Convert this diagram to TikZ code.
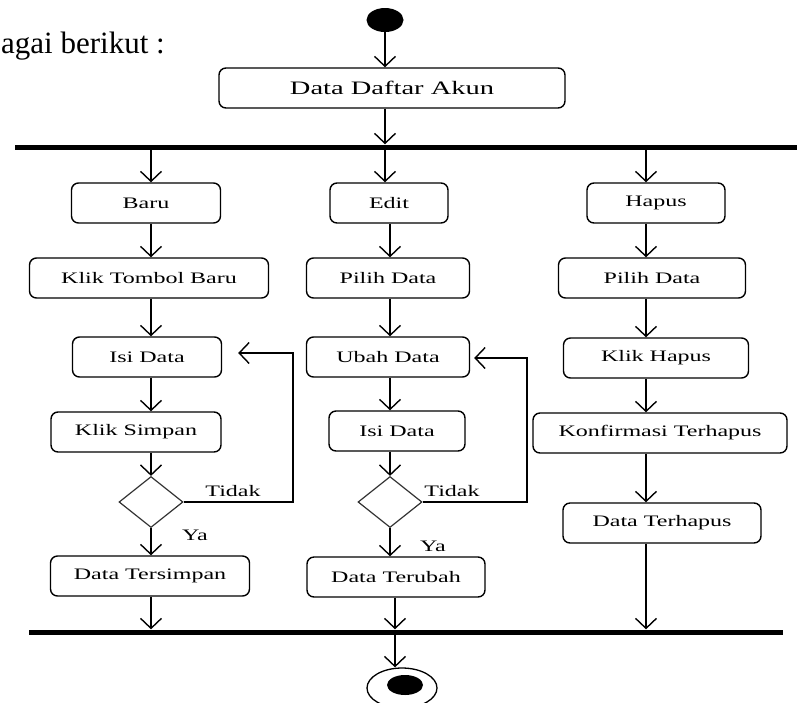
\documentclass[tikz,border=0pt]{standalone}
\usepackage{fontspec}
\setmainfont{Liberation Serif}
\newfontfamily\boxfont[FakeStretch=1.5]{Liberation Serif}
\usetikzlibrary{arrows.meta,positioning,shapes.geometric}
\tikzset{
  act/.style={draw,line width=1.4pt,rounded corners=7pt,minimum height=40pt,inner sep=0pt,align=center,font=\boxfont\fontsize{16}{19}\selectfont},
  choice/.style={diamond,draw=black!80,line width=1.2pt,minimum width=64pt,minimum height=51pt,inner sep=0pt},
  syncbar/.style={fill=black,minimum height=5pt,inner sep=0pt},
  guard/.style={inner sep=0pt,font=\boxfont\fontsize{16}{19}\selectfont},
  flow/.style={-{Straight Barb[length=10pt,width=21pt]},line width=1.4pt}
}
\begin{document}
\begin{tikzpicture}[x=1pt,y=-1pt]
  \useasboundingbox (0,0) rectangle (797,702);
  \node[anchor=base west,inner sep=0pt,font=\fontsize{31}{36}\selectfont] (intro) at (1,53) {agai berikut :};
  % start, first activity and fork
  \node[ellipse,fill=black,minimum width=37pt,minimum height=24pt,inner sep=0pt] (start) at (385,20) {};
  \node[act,minimum width=346pt,font=\boxfont\fontsize{19}{22}\selectfont] (akun) at (392,88) {Data Daftar Akun};
  \node[syncbar,minimum width=790pt,anchor=west] (fork) at (15,147) {};
  \coordinate (colL) at (151,0);
  \coordinate (colT) at (385,0);
  \coordinate (colM) at (390,0);
  \coordinate (colR) at (646,0);
  \coordinate (colE) at (395,0);
  % baru
  \node[act,minimum width=149pt] (baru) at (146,203) {Baru};
  \node[act,minimum width=239pt] (tombol) at (149,278) {Klik Tombol Baru};
  \node[act,minimum width=149pt] (isiB) at (147,357) {Isi Data};
  \node[act,minimum width=170pt] (simpan) at (136,432) {Klik Simpan};
  \node[choice] (dB) at (151,502) {};
  \node[act,minimum width=199pt] (tersimpan) at (150,576) {Data Tersimpan};
  % edit
  \node[act,minimum width=118pt] (edit) at (389,203) {Edit};
  \node[act,minimum width=163pt] (pilihE) at (388,278) {Pilih Data};
  \node[act,minimum width=163pt] (ubah) at (388,357) {Ubah Data};
  \node[act,minimum width=136pt] (isiE) at (397,431) {Isi Data};
  \node[choice] (dE) at (390,502) {};
  \node[act,minimum width=178pt] (terubah) at (396,577) {Data Terubah};
  % hapus
  \node[act,minimum width=138pt] (hapus) at (656,203) {Hapus};
  \node[act,minimum width=187pt] (pilihH) at (652,278) {Pilih Data};
  \node[act,minimum width=185pt] (klikH) at (656,358) {Klik Hapus};
  \node[act,minimum width=254pt] (konfirm) at (660,433) {Konfirmasi Terhapus};
  \node[act,minimum width=198pt] (terhapus) at (662,523) {Data Terhapus};
  % join and end
  \node[syncbar,minimum width=754pt,anchor=west] (join) at (29,632) {};
  \node[ellipse,draw,line width=1.3pt,minimum width=70pt,minimum height=40pt,inner sep=0pt] (endO) at (402,688) {};
  \node[ellipse,fill=black,minimum width=36pt,minimum height=20pt,inner sep=0pt] (endI) at (405,685) {};

  \draw[flow] (start.south) -- (akun.north -| start);
  \draw[flow] (akun.south -| colT) -- (fork.north -| colT);
  \draw[flow] (fork.south -| colL) -- (baru.north -| colL);
  \draw[flow] (fork.south -| colT) -- (edit.north -| colT);
  \draw[flow] (fork.south -| colR) -- (hapus.north -| colR);
  \foreach \a/\b/\c in {baru/tombol/colL,tombol/isiB/colL,isiB/simpan/colL,simpan/dB/colL,dB/tersimpan/colL,
      edit/pilihE/colM,pilihE/ubah/colM,ubah/isiE/colM,isiE/dE/colM,dE/terubah/colM,
      hapus/pilihH/colR,pilihH/klikH/colR,klikH/konfirm/colR,konfirm/terhapus/colR}
    \draw[flow] (\a.south -| \c) -- (\b.north -| \c);
  \draw[flow] (tersimpan.south -| colL) -- (join.north -| colL);
  \draw[flow] (terubah.south -| colE) -- (join.north -| colE);
  \draw[flow] (terhapus.south -| colR) -- (join.north -| colR);
  \draw[flow] (join.south -| colE) -- (endO.north -| colE);

  % back loops
  \coordinate (backB) at (293,353);
  \coordinate (backE) at (527,358);
  \draw[flow,shorten >=16pt] (dB.east) -| (backB) -- (backB -| isiB.east);
  \draw[flow,shorten >=4pt] (dE.east) -| (backE) -- (backE -| ubah.east);
  \node[guard] (tidakB) at (233,491) {Tidak};
  \node[guard] (yaB) at (195,535) {Ya};
  \node[guard] (tidakE) at (452,491) {Tidak};
  \node[guard] (yaE) at (433,546) {Ya};
\end{tikzpicture}
\end{document}
